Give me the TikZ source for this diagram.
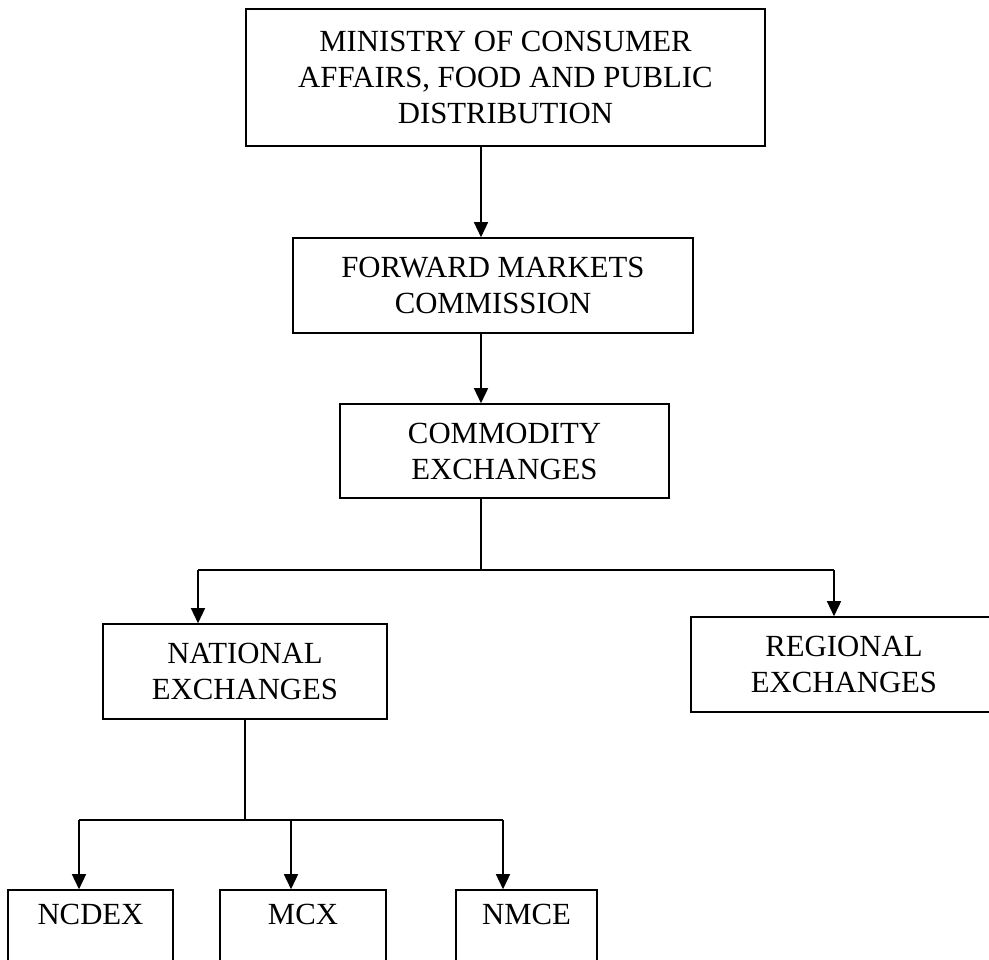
\documentclass[tikz,border=0pt]{standalone}
\usepackage{fontspec}
\setmainfont{Liberation Serif}
\usetikzlibrary{arrows.meta}
\begin{document}
\begin{tikzpicture}[x=0.02cm,y=-0.02cm,
  every node/.style={font=\fontsize{17.5}{20.5}\selectfont},
  orgbox/.style={draw,line width=.9pt,align=center,inner sep=0pt},
  link/.style={line width=.8pt},
  arr/.style={link,-{Triangle[width=0.28cm,length=0.3cm]}}]
\useasboundingbox (0,0) rectangle (989,959);
\clip (0,0) rectangle (989,959);
% boxes
\node[orgbox,minimum width=10.38cm,minimum height=2.74cm] (ministry) at (505.5,77.5) {MINISTRY OF CONSUMER\\AFFAIRS, FOOD AND PUBLIC\\DISTRIBUTION};
\node[orgbox,minimum width=8cm,minimum height=1.9cm] (fmc) at (493,285.5) {FORWARD MARKETS\\COMMISSION};
\node[orgbox,minimum width=6.58cm,minimum height=1.88cm] (commodity) at (504.5,451) {COMMODITY\\EXCHANGES};
\node[orgbox,minimum width=5.68cm,minimum height=1.9cm] (national) at (245,671.5) {NATIONAL\\EXCHANGES};
\node[orgbox,minimum width=6.12cm,minimum height=1.9cm] (regional) at (844,664.5) {REGIONAL\\EXCHANGES};
\node[orgbox,minimum width=3.3cm,minimum height=1.9cm] (ncdex) at (90.5,937.5) {NCDEX\\\strut};
\node[orgbox,minimum width=3.32cm,minimum height=1.9cm] (mcx) at (303,937.5) {MCX\\\strut};
\node[orgbox,minimum width=2.82cm,minimum height=1.9cm] (nmce) at (526.5,937.5) {NMCE\\\strut};
% junction points
\coordinate (trunk) at (481,570);
\coordinate (natin) at (198,570);
\coordinate (regin) at (834,570);
\coordinate (branch) at (245,820);
\coordinate (ncdexin) at (79,820);
\coordinate (mcxin) at (291,820);
\coordinate (nmcein) at (503,820);
% connectors
\draw[arr] (ministry.south -| trunk) -- (fmc.north -| trunk);
\draw[arr] (fmc.south -| trunk) -- (commodity.north -| trunk);
\draw[link] (commodity.south -| trunk) -- (trunk);
\draw[link] (natin) -- (regin);
\draw[arr] (natin) -- (national.north -| natin);
\draw[arr] (regin) -- (regional.north -| regin);
\draw[link] (national.south -| branch) -- (branch);
\draw[link] (ncdexin) -- (nmcein);
\draw[arr] (ncdexin) -- (ncdex.north -| ncdexin);
\draw[arr] (mcxin) -- (mcx.north -| mcxin);
\draw[arr] (nmcein) -- (nmce.north -| nmcein);
\end{tikzpicture}
\end{document}
